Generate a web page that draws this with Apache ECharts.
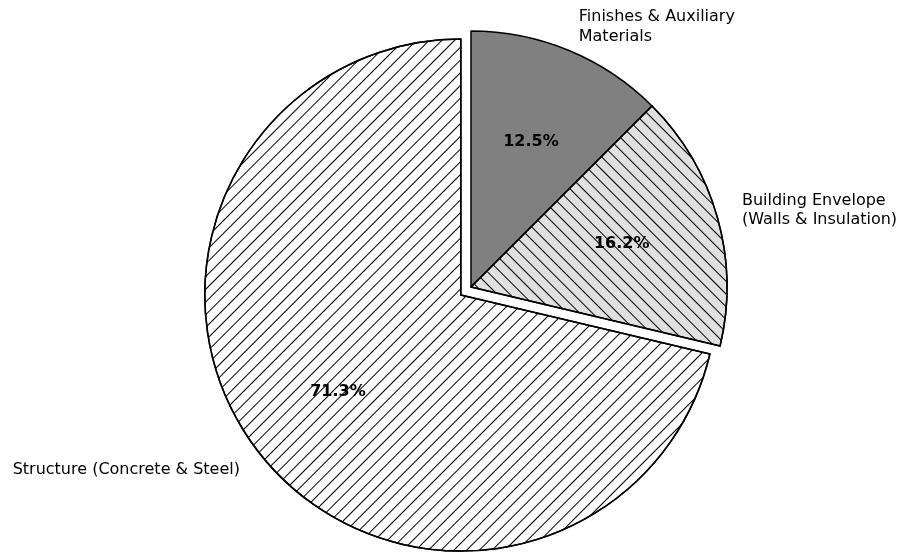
<!DOCTYPE html>
<html><head><meta charset="utf-8">
<script src="https://cdn.jsdelivr.net/npm/echarts@6/dist/echarts.min.js"></script>
<style>html,body{margin:0;padding:0;background:#fff}#c{width:901px;height:554px}</style>
</head><body><div id="c"></div>
<script>
// ---- data ----
const categories = ['Finishes & Auxiliary\nMaterials', 'Building Envelope\n(Walls & Insulation)', 'Structure (Concrete & Steel)'];
const shares = [12.5, 16.2, 71.3];
const exploded = [false, false, true];

// ---- styles ----
const fills = ['#808080', '#e0e0e0', '#ffffff'];
const hatchRot = [null, Math.PI / 4, -Math.PI / 4];

const CX = 471, CY = 287, R = 256, OFF = 13;
const FONT = 'DejaVu Sans';

function hatch(rot) {
  if (rot === null) return null;
  return { symbol: 'rect', symbolSize: 1, dashArrayX: [1, 0], dashArrayY: [1, 8], rotation: rot, color: '#000' };
}

const mainData = categories.map((n, i) => {
  const st = { color: fills[i], borderColor: '#000', borderWidth: 1.5 };
  const d = hatch(hatchRot[i]);
  if (d) st.decal = d;
  return { name: n, value: shares[i], selected: exploded[i], itemStyle: st, select: { itemStyle: st } };
});
const pctData = categories.map((n, i) => ({ name: n, value: shares[i], selected: exploded[i] }));

const chart = echarts.init(document.getElementById('c'), null, { renderer: 'canvas' });
chart.setOption({
  animation: false,
  backgroundColor: '#fff',
  series: [
    {
      type: 'pie', center: [CX, CY], radius: R, startAngle: 90, clockwise: true,
      selectedMode: 'multiple', selectedOffset: OFF, avoidLabelOverlap: false,
      emphasis: { disabled: true },
      label: { show: true, position: 'outside', color: '#000', fontFamily: FONT, fontSize: 16, lineHeight: 19.5, distanceToLabelLine: 0, formatter: '{b}' },
      labelLine: { show: false, length: R * 0.1, length2: 0 },
      data: mainData
    },
    {
      type: 'pie', center: [CX, CY], radius: R * 1.2, startAngle: 90, clockwise: true,
      selectedMode: 'multiple', selectedOffset: OFF, avoidLabelOverlap: false, silent: true,
      emphasis: { disabled: true },
      itemStyle: { color: 'rgba(0,0,0,0)', borderWidth: 0 },
      select: { itemStyle: { color: 'rgba(0,0,0,0)', borderWidth: 0 } },
      label: { show: true, position: 'inside', color: '#000', fontFamily: FONT, fontSize: 16, fontWeight: 'bold',
        padding: [4, 0, 0, 0],
        formatter: p => p.value.toFixed(1) + '%' },
      labelLine: { show: false },
      data: pctData
    }
  ]
});
</script>
</body></html>
